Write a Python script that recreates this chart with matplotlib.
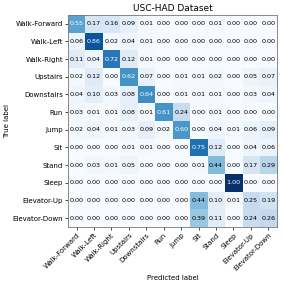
import numpy as np
import matplotlib
matplotlib.use('Agg')
import matplotlib.pyplot as plt

classes = ['Walk-Forward', 'Walk-Left', 'Walk-Right', 'Upstairs', 'Downstairs',
           'Run', 'Jump', 'Sit', 'Stand', 'Sleep', 'Elevator-Up', 'Elevator-Down']

cm = np.array([
    [0.55, 0.17, 0.16, 0.09, 0.01, 0.00, 0.00, 0.00, 0.01, 0.00, 0.00, 0.00],
    [0.06, 0.86, 0.02, 0.04, 0.01, 0.00, 0.00, 0.00, 0.00, 0.00, 0.00, 0.00],
    [0.11, 0.04, 0.72, 0.12, 0.01, 0.00, 0.00, 0.00, 0.00, 0.00, 0.00, 0.00],
    [0.02, 0.12, 0.00, 0.62, 0.07, 0.00, 0.01, 0.01, 0.02, 0.00, 0.05, 0.07],
    [0.04, 0.10, 0.03, 0.08, 0.64, 0.00, 0.01, 0.01, 0.01, 0.00, 0.03, 0.04],
    [0.03, 0.01, 0.01, 0.08, 0.01, 0.61, 0.24, 0.00, 0.01, 0.00, 0.00, 0.00],
    [0.02, 0.04, 0.01, 0.03, 0.09, 0.02, 0.60, 0.00, 0.04, 0.01, 0.06, 0.09],
    [0.00, 0.00, 0.00, 0.01, 0.01, 0.00, 0.00, 0.75, 0.12, 0.00, 0.04, 0.06],
    [0.00, 0.03, 0.01, 0.05, 0.00, 0.00, 0.00, 0.01, 0.44, 0.00, 0.17, 0.29],
    [0.00, 0.00, 0.00, 0.00, 0.00, 0.00, 0.00, 0.00, 0.00, 1.00, 0.00, 0.00],
    [0.00, 0.00, 0.00, 0.00, 0.00, 0.00, 0.00, 0.44, 0.10, 0.01, 0.25, 0.19],
    [0.00, 0.00, 0.00, 0.00, 0.00, 0.00, 0.00, 0.39, 0.11, 0.00, 0.24, 0.26],
])

fig = plt.figure(figsize=(2.83, 2.83), dpi=100)
ax = fig.add_axes([0.24, 0.198, 0.739, 0.749])
ax.imshow(cm, interpolation='nearest', cmap=plt.cm.Blues, vmin=0, vmax=1, aspect='auto')
ax.set_title('USC-HAD Dataset', fontsize=6.5, pad=3)

ticks = np.arange(len(classes))
ax.set_xticks(ticks)
ax.set_yticks(ticks)
ax.set_xticklabels(classes, rotation=45, ha='right', rotation_mode='anchor', fontsize=5)
ax.set_yticklabels(classes, fontsize=5)
ax.tick_params(length=2, width=0.5, pad=1.5)
for s in ax.spines.values():
    s.set_linewidth(0.6)
    s.set_color('#777777')

thresh = cm.max() / 2.
for i in range(cm.shape[0]):
    for j in range(cm.shape[1]):
        ax.text(j, i, format(cm[i, j], '.2f'), ha='center', va='center', fontsize=4.6,
                color='white' if cm[i, j] > thresh else 'black')

ax.set_ylabel('True label', fontsize=5, labelpad=2)
ax.set_xlabel('Predicted label', fontsize=5, labelpad=2)

fig.savefig('out.png', dpi=100)
